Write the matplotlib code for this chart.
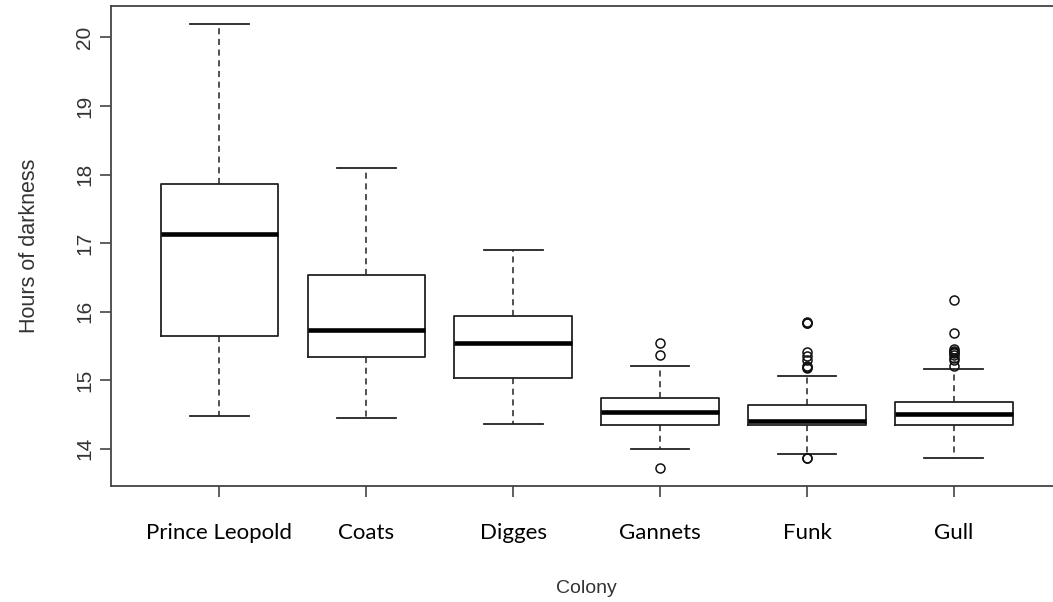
import matplotlib
matplotlib.use("Agg")
import matplotlib.pyplot as plt

# valores
colonias = ["Prince Leopold", "Coats", "Digges", "Gannets", "Funk", "Gull"]
q1 = [15.64, 15.34, 15.03, 14.34, 14.34, 14.34]
mediana = [17.13, 15.73, 15.54, 14.53, 14.40, 14.51]
q3 = [17.86, 16.53, 15.94, 14.74, 14.64, 14.68]
bigode_inf = [14.47, 14.45, 14.36, 14.00, 13.92, 13.87]
bigode_sup = [20.19, 18.10, 16.90, 15.21, 15.06, 15.17]
outliers = [
    [],
    [],
    [],
    [15.54, 15.36, 13.72],
    [15.84, 15.85, 15.83, 15.41, 15.35, 15.29, 15.20, 15.19, 15.18, 13.86, 13.87],
    [16.17, 15.69, 15.46, 15.43, 15.41, 15.39, 15.36, 15.33, 15.30, 15.21],
]

stats = []
for i in range(len(colonias)):
    stats.append({
        "label": colonias[i],
        "q1": q1[i], "med": mediana[i], "q3": q3[i],
        "whislo": bigode_inf[i], "whishi": bigode_sup[i],
        "fliers": outliers[i],
    })

fig = plt.figure(figsize=(10.53, 6.02), dpi=100)
ax = fig.add_axes([0.1051, 0.1927, 0.904, 0.797])

ax.bxp(
    stats,
    widths=0.8,
    capwidths=0.4,
    boxprops=dict(color="#222222", linewidth=1.3),
    medianprops=dict(color="black", linewidth=3.3, solid_capstyle="butt"),
    whiskerprops=dict(color="#222222", linewidth=1.1, linestyle=(0, (4, 3))),
    capprops=dict(color="#222222", linewidth=1.3),
    flierprops=dict(marker="o", markerfacecolor="none", markeredgecolor="#111111",
                    markersize=6.5, markeredgewidth=1.1, linestyle="none"),
)

ax.set_xlim(0.26, 6.74)
ax.set_ylim(13.456, 20.456)
ax.set_yticks([14, 15, 16, 17, 18, 19, 20])
ax.set_yticklabels(["14", "15", "16", "17", "18", "19", "20"], rotation=90,
                   va="center", fontsize=15, color="#333333", family="Liberation Sans")
ax.set_xticks(range(1, len(colonias) + 1))
ax.set_xticklabels(colonias, fontsize=16, color="black", family="Lato")

for s in ax.spines.values():
    s.set_color("#444444")
    s.set_linewidth(1.3)
ax.tick_params(axis="both", direction="out", length=8, width=1.2, color="#444444")
ax.tick_params(axis="x", pad=19)
ax.tick_params(axis="y", pad=4)

ax.set_ylabel("Hours of darkness", fontsize=15.5, color="#333333",
              family="Liberation Sans", labelpad=25)
ax.set_xlabel("Colony", fontsize=14, color="#333333",
              family="Liberation Sans", labelpad=26)

fig.savefig("out.png", dpi=100)
